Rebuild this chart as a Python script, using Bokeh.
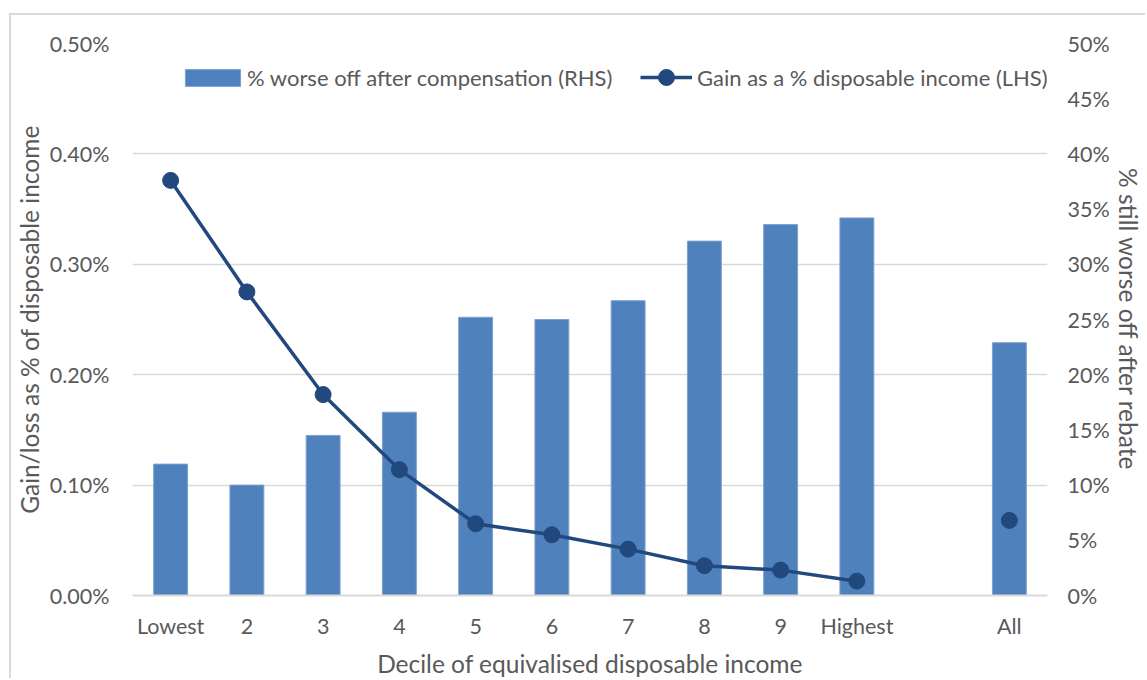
from bokeh.plotting import figure
from bokeh.models import (Range1d, LinearAxis, PrintfTickFormatter, SingleIntervalTicker,
                          Legend, LegendItem, FactorRange)
from bokeh.embed import file_html
from bokeh.resources import INLINE

# ---- data ----
categories = ["Lowest", "2", "3", "4", "5", "6", "7", "8", "9", "Highest", " ", "All"]
bar_categories = ["Lowest", "2", "3", "4", "5", "6", "7", "8", "9", "Highest", "All"]
worse_off_rhs = [11.9, 10.0, 14.5, 16.6, 25.2, 25.0, 26.7, 32.1, 33.6, 34.2, 22.9]
decile_categories = ["Lowest", "2", "3", "4", "5", "6", "7", "8", "9", "Highest"]
gain_lhs = [0.376, 0.275, 0.182, 0.114, 0.065, 0.055, 0.042, 0.027, 0.023, 0.013]
all_category = ["All"]
all_gain_lhs = [0.068]

FONT = "Lato"
TXT = "#595959"
GRID = "#d9d9d9"
BAR = "#4f81bd"
LINE = "#21497d"

W, H = 1136, 665
p = figure(width=W, height=H, x_range=FactorRange(*categories, range_padding=0),
           y_range=Range1d(0, 0.5), output_backend="svg", toolbar_location=None,
           min_border_left=121, min_border_right=100, min_border_top=28, min_border_bottom=83)
p.styles = {"border-left": "2px solid #d9d9d9", "border-top": "2px solid #d9d9d9",
            "margin-left": "9px", "margin-top": "13px"}
p.extra_y_ranges = {"rhs": Range1d(0, 50)}
p.outline_line_color = None
p.background_fill_color = "white"
p.border_fill_color = "white"

bars = p.vbar(x=bar_categories, top=worse_off_rhs, width=0.445, y_range_name="rhs",
              fill_color=BAR, line_color="#7ea1cf", line_width=1)
ln = p.line(x=decile_categories, y=gain_lhs, line_color=LINE, line_width=3.5)
dots = p.scatter(x=decile_categories, y=gain_lhs, size=16, fill_color=LINE, line_color=LINE)
dot_all = p.scatter(x=all_category, y=all_gain_lhs, size=16, fill_color=LINE, line_color=LINE)

# axes
p.yaxis.ticker = SingleIntervalTicker(interval=0.1)
p.yaxis.formatter = PrintfTickFormatter(format="%.2f%%")
p.yaxis.axis_label = "Gain/loss as % of disposable income"
p.yaxis.axis_label_standoff = 3
p.yaxis.major_label_standoff = 17

rax = LinearAxis(y_range_name="rhs", ticker=SingleIntervalTicker(interval=5),
                 formatter=PrintfTickFormatter(format="%d%%"),
                 axis_label="% still worse off after rebate")
rax.axis_label_standoff = 1
rax.major_label_standoff = 14
p.add_layout(rax, "right")

p.xaxis.axis_label = "Decile of equivalised disposable income"
p.xaxis.major_label_standoff = 11
p.xaxis.axis_label_standoff = 7

for ax in [p.yaxis[0], rax, p.xaxis[0]]:
    ax.major_tick_line_color = None
    ax.minor_tick_line_color = None
    ax.major_label_text_font = FONT
    ax.major_label_text_font_size = "21.5px"
    ax.major_label_text_color = TXT
    ax.axis_label_text_font = FONT
    ax.axis_label_text_font_size = "24.5px"
    ax.axis_label_text_color = TXT
    ax.axis_label_text_font_style = "normal"
    ax.axis_line_color = None
p.xaxis.axis_line_color = GRID
p.xaxis.axis_line_width = 2

p.xgrid.grid_line_color = None
p.ygrid.grid_line_color = GRID
p.ygrid.grid_line_width = 1.5

# legends
def make_legend(items, x, y, gw, gh, standoff):
    return Legend(items=items, location=(x, y), orientation="horizontal",
                  border_line_color=None, background_fill_alpha=0, padding=0, margin=0,
                  glyph_width=gw, glyph_height=gh, label_height=gh, label_standoff=standoff,
                  label_text_font=FONT, label_text_font_size="22px", label_text_color=TXT)

lg1 = make_legend([LegendItem(label="% worse off after compensation (RHS)", renderers=[bars])],
                  46, 504, 69, 21, 0)
lg2 = make_legend([LegendItem(label="Gain as a % disposable income (LHS)", renderers=[ln, dots])],
                  508, 498, 52, 40, 5)
p.add_layout(lg1)
p.add_layout(lg2)

open("out.html", "w").write(file_html(p, INLINE))
